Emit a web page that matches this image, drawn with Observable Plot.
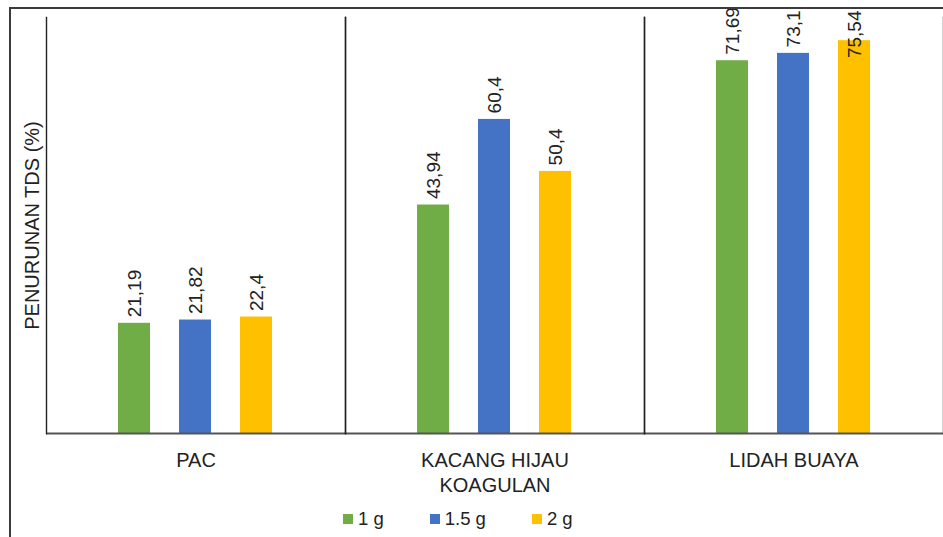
<!DOCTYPE html>
<html>
<head>
<meta charset="utf-8">
<script src="https://cdn.jsdelivr.net/npm/d3@7"></script>
<script src="https://cdn.jsdelivr.net/npm/@observablehq/plot@0.6"></script>
<style>
  html, body { margin: 0; padding: 0; background: #fff; overflow: hidden; }
  body { width: 943px; height: 537px; position: relative; font-family: "Liberation Sans", Arial, sans-serif; }
  #frame { position: absolute; left: 9px; top: 7px; width: 1000px; height: 600px;
           border-left: 2px solid #3c3c3c; border-top: 2px solid #3c3c3c; pointer-events: none; }
  #chart { position: absolute; left: 0; top: 0; }
  #legend { position: absolute; left: 343px; top: 508px; display: flex; align-items: center;
            font-size: 18.5px; color: #222; }
  .item { display: flex; align-items: center; margin-right: 46px; }
  .sw { width: 10px; height: 10px; margin-right: 5px; }
</style>
</head>
<body>
<div id="chart"></div>
<div id="legend"></div>
<div id="frame"></div>
<script>
// Coagulant groups and doses
const groups = ["PAC", "KACANG HIJAU\nKOAGULAN", "LIDAH BUAYA"];
const doses = ["1 g", "1.5 g", "2 g"];
const colors = ["#70AD47", "#4472C4", "#FFC000"];

// TDS reduction (%) per dose, one value per group
const values1g = [21.19, 43.94, 71.69];
const values15g = [21.82, 60.4, 73.1];
const values2g = [22.4, 50.4, 75.54];

const yTitle = "PENURUNAN TDS (%)";
const yMax = 80;
// labels above this value would run past the top, so they hang from the top edge
const labelClamp = 74;

const series = [values1g, values15g, values2g];
const rows = [];
groups.forEach((g, gi) => {
  doses.forEach((d, di) => {
    rows.push({group: g, dose: d, value: series[di][gi]});
  });
});
const fmt = v => String(v).replace(".", ",");

const font = "Liberation Sans, Arial, sans-serif";

const chart = Plot.plot({
  width: 943,
  height: 505,
  marginLeft: 45,
  marginRight: 0,
  marginTop: 17,
  marginBottom: 72,
  style: {fontFamily: font, fontSize: "20px", color: "#222", background: "transparent"},
  fx: {domain: groups, padding: 0, label: null},
  x: {domain: doses, paddingInner: 0.469, paddingOuter: 1.18, axis: null},
  y: {domain: [0, yMax], label: null, axis: null},
  color: {domain: doses, range: colors},
  marks: [
    Plot.barY(rows, {fx: "group", x: "dose", y: "value", fill: "dose"}),
    Plot.ruleY([0], {stroke: "#555", strokeWidth: 2}),
    Plot.frame({anchor: "left", stroke: "#222", strokeWidth: 1.4}),
    Plot.frame({anchor: "right", stroke: "#222", strokeWidth: 1.4}),
    Plot.text(rows.filter(d => d.value <= labelClamp), {
      fx: "group", x: "dose", y: "value", text: d => fmt(d.value),
      rotate: -90, textAnchor: "start", lineAnchor: "middle", dy: -6,
      fill: "#222", fontSize: 19
    }),
    Plot.text(rows.filter(d => d.value > labelClamp), {
      fx: "group", x: "dose", text: d => fmt(d.value), frameAnchor: "top",
      rotate: -90, textAnchor: "end", lineAnchor: "middle", dy: -7,
      fill: "#222", fontSize: 19
    }),
    Plot.axisFx({anchor: "bottom", tickSize: 0, tickPadding: 16, lineHeight: 1.25,
                 fontSize: 20, label: null}),
    Plot.axisY({anchor: "left", ticks: [], tickSize: 0, label: yTitle, labelAnchor: "center",
                labelArrow: "none", labelOffset: 22, fontSize: 20})
  ]
});
document.getElementById("chart").appendChild(chart);

// legend under the chart
const legend = document.getElementById("legend");
doses.forEach((d, i) => {
  const item = document.createElement("div");
  item.className = "item";
  const sw = document.createElement("div");
  sw.className = "sw";
  sw.style.background = colors[i];
  const t = document.createElement("span");
  t.textContent = d;
  item.appendChild(sw);
  item.appendChild(t);
  legend.appendChild(item);
});
</script>
</body>
</html>
